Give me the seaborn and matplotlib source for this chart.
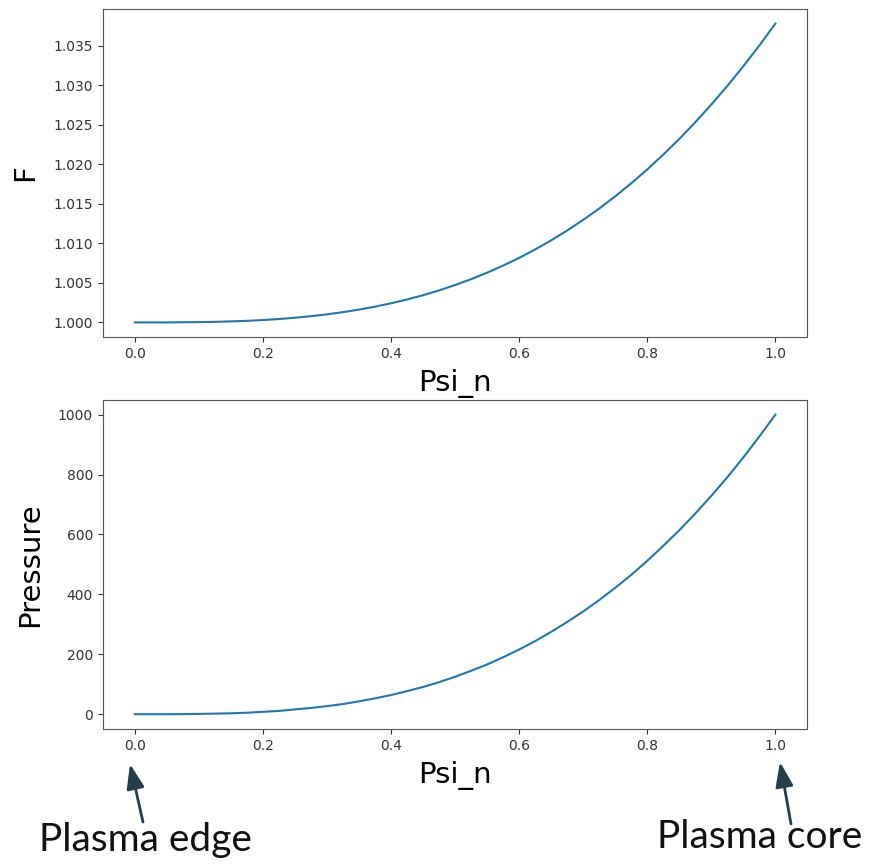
import matplotlib
matplotlib.use("Agg")
import matplotlib.pyplot as plt
import seaborn as sns
import pandas as pd

# values
psi_n = [0.000, 0.025, 0.050, 0.075, 0.100, 0.125, 0.150, 0.175, 0.200, 0.225,
         0.250, 0.275, 0.300, 0.325, 0.350, 0.375, 0.400, 0.425, 0.450, 0.475,
         0.500, 0.525, 0.550, 0.575, 0.600, 0.625, 0.650, 0.675, 0.700, 0.725,
         0.750, 0.775, 0.800, 0.825, 0.850, 0.875, 0.900, 0.925, 0.950, 0.975,
         1.000]
f_values = [1.00000, 1.00000, 1.00000, 1.00002, 1.00004, 1.00007, 1.00013,
            1.00020, 1.00030, 1.00043, 1.00059, 1.00079, 1.00102, 1.00130,
            1.00162, 1.00199, 1.00242, 1.00290, 1.00344, 1.00405, 1.00473,
            1.00547, 1.00629, 1.00719, 1.00816, 1.00923, 1.01038, 1.01163,
            1.01297, 1.01441, 1.01595, 1.01760, 1.01935, 1.02123, 1.02321,
            1.02532, 1.02756, 1.02992, 1.03241, 1.03503, 1.03780]
pressure = [0, 0, 0, 0.4, 1, 2, 3, 5, 8, 11, 16, 21, 27, 34, 43, 53, 64, 77,
            91, 107, 125, 145, 166, 190, 216, 244, 275, 308, 343, 381, 422,
            465, 512, 562, 614, 670, 729, 791, 857, 927, 1000]

df = pd.DataFrame({"Psi_n": psi_n, "F": f_values, "Pressure": pressure})

fig = plt.figure(figsize=(8.71, 8.65), dpi=100)
ax1 = fig.add_axes([0.118, 0.610, 0.809, 0.380])
ax2 = fig.add_axes([0.118, 0.157, 0.809, 0.381])

sns.lineplot(data=df, x="Psi_n", y="F", ax=ax1, color="#1f77b4", lw=1.5)
sns.lineplot(data=df, x="Psi_n", y="Pressure", ax=ax2, color="#1f77b4", lw=1.5)

for ax, ylab in [(ax1, "F"), (ax2, "Pressure")]:
    ax.set_xlabel("Psi_n", fontsize=21, labelpad=6)
    ax.set_ylabel(ylab, fontsize=21, labelpad=10)
    ax.tick_params(labelsize=10, colors="#333333")
    ax.set_xticks([0.0, 0.2, 0.4, 0.6, 0.8, 1.0])
    for s in ax.spines.values():
        s.set_color("#555555")

ax1.set_yticks([1.000, 1.005, 1.010, 1.015, 1.020, 1.025, 1.030, 1.035])
ax1.set_yticklabels([f"{v:.3f}" for v in ax1.get_yticks()])
ax2.set_yticks([0, 200, 400, 600, 800, 1000])

# annotations below the lower axes
arrow = dict(arrowstyle="-|>,head_length=0.5,head_width=0.18",
             mutation_scale=30, lw=2.0, color="#263d4a", shrinkA=0, shrinkB=0)
H = 865
ax2.annotate("", xy=(130, H - 764), xytext=(143, H - 822),
             xycoords="figure pixels", textcoords="figure pixels",
             arrowprops=arrow, annotation_clip=False)
ax2.annotate("", xy=(780, H - 762), xytext=(791, H - 824),
             xycoords="figure pixels", textcoords="figure pixels",
             arrowprops=arrow, annotation_clip=False)
fig.text(145 / 871, 1 - 840 / 865, "Plasma edge", fontsize=28, family="Lato",
         ha="center", va="center", color="#111111")
fig.text(760 / 871, 1 - 837 / 865, "Plasma core", fontsize=28, family="Lato",
         ha="center", va="center", color="#111111")

fig.savefig("out.png", dpi=100)
